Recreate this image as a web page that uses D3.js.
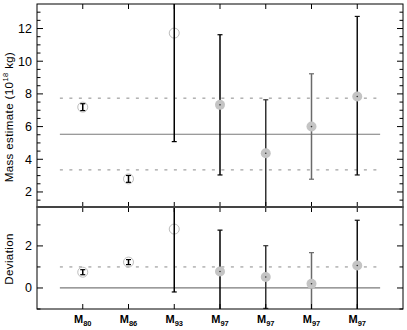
<!DOCTYPE html>
<html lang="en">
<head>
<meta charset="UTF-8">
<title>Mass estimates</title>
<script src="https://cdnjs.cloudflare.com/ajax/libs/d3/7.8.5/d3.min.js"></script>
<style>
    * { margin: 0; padding: 0; }
    body { background: #fff; width: 407px; height: 330px; overflow: hidden; }
    text { font-family: "Liberation Sans", Arial, sans-serif; fill: #000; }
</style>
</head>
<body>
<svg id="chart" width="407" height="330"></svg>
<script>
    // category subscripts (M_xx)
    const cats = ['80', '86', '93', '97', '97', '97', '97'];
    const openMarker = [true, true, true, false, false, false, false];
    const barColor = ['#000', '#000', '#000', '#000', '#333', '#6a6a6a', '#111'];

    // top panel: mass estimate (10^18 kg)
    const massVal = [7.19, 2.80, 11.72, 7.33, 4.37, 6.00, 7.84];
    const massLo  = [6.98, 2.59, 5.08, 3.04, 1.10, 2.78, 3.04];
    const massHi  = [7.40, 3.01, 14.5, 11.62, 7.64, 9.23, 12.74];
    const massMean = 5.53;
    const massBand = [3.35, 7.74];
    const massTicks = [2, 4, 6, 8, 10, 12];

    // bottom panel: deviation
    const devVal = [0.75, 1.23, 2.80, 0.78, 0.52, 0.20, 1.07];
    const devLo  = [0.63, 1.11, -0.19, -1.5, -0.97, -1.5, -1.5];
    const devHi  = [0.87, 1.35, 4.5, 2.75, 2.01, 1.68, 3.22];
    const devRef = 0;
    const devDash = 1;
    const devTicks = [0, 2];

    const svg = d3.select('#chart');
    const left = 37, right = 403;

    const x = d3.scaleLinear().domain([0, 8]).range([left, right]);

    const panels = [
        { top: 4, bottom: 207, domain: [1.08, 13.5], val: massVal, lo: massLo, hi: massHi,
          solid: [massMean], dashed: massBand, ticks: massTicks, minorStep: 0.5,
          label: 'mass', labelY: 117 },
        { top: 207, bottom: 309, domain: [-1, 3.85], val: devVal, lo: devLo, hi: devHi,
          solid: [devRef], dashed: [devDash], ticks: devTicks, minorStep: 1,
          label: 'Deviation', labelY: 259 }
    ];

    panels.forEach((p, pi) => {
        const y = d3.scaleLinear().domain(p.domain).range([p.bottom, p.top]);
        const g = svg.append('g');

        const clipId = 'clip' + pi;
        svg.append('clipPath').attr('id', clipId)
            .append('rect')
            .attr('x', left).attr('y', p.top)
            .attr('width', right - left).attr('height', p.bottom - p.top);

        // reference lines
        const xs = [x(0.5), x(7.5)];
        p.dashed.forEach(v => {
            g.append('line')
                .attr('x1', xs[0]).attr('x2', xs[1])
                .attr('y1', y(v)).attr('y2', y(v))
                .attr('stroke', '#8a8a8a').attr('stroke-width', 1)
                .attr('stroke-dasharray', '3,6.5');
        });
        p.solid.forEach(v => {
            g.append('line')
                .attr('x1', xs[0]).attr('x2', xs[1])
                .attr('y1', y(v)).attr('y2', y(v))
                .attr('stroke', '#7a7a7a').attr('stroke-width', 1.2);
        });

        // error bars + markers
        const pts = g.append('g').attr('clip-path', `url(#${clipId})`);
        p.val.forEach((v, i) => {
            const cx = x(i + 1);
            const col = barColor[i];
            if (!openMarker[i]) {
                pts.append('line')
                    .attr('x1', cx).attr('x2', cx)
                    .attr('y1', y(p.lo[i])).attr('y2', y(p.hi[i]))
                    .attr('stroke', col).attr('stroke-width', 1.5);
                pts.append('circle')
                    .attr('cx', cx).attr('cy', y(v)).attr('r', 5)
                    .attr('fill', '#c4c4c4');
                pts.append('circle')
                    .attr('cx', cx).attr('cy', y(v)).attr('r', 0.8)
                    .attr('fill', '#333');
            } else {
                pts.append('circle')
                    .attr('cx', cx).attr('cy', y(v)).attr('r', 5)
                    .attr('fill', 'none').attr('stroke', '#bdbdbd').attr('stroke-width', 1);
                pts.append('line')
                    .attr('x1', cx).attr('x2', cx)
                    .attr('y1', y(p.lo[i])).attr('y2', y(p.hi[i]))
                    .attr('stroke', col).attr('stroke-width', 1.5);
            }
            [p.lo[i], p.hi[i]].forEach(e => {
                if (e >= p.domain[0] - 0.05 && e <= p.domain[1]) {
                    pts.append('line')
                        .attr('x1', cx - 2.5).attr('x2', cx + 2.5)
                        .attr('y1', y(e)).attr('y2', y(e))
                        .attr('stroke', col).attr('stroke-width', 1.2);
                }
            });
        });

        // y ticks, left and right
        const minor = d3.range(Math.ceil(p.domain[0] / p.minorStep) * p.minorStep, p.domain[1], p.minorStep);
        minor.forEach(v => {
            const isMajor = p.ticks.includes(v) || Math.abs(v % 2) < 1e-9;
            const len = isMajor ? 6 : 3.5;
            g.append('line').attr('x1', left).attr('x2', left + len)
                .attr('y1', y(v)).attr('y2', y(v)).attr('stroke', '#000').attr('stroke-width', 1);
            g.append('line').attr('x1', right).attr('x2', right - len)
                .attr('y1', y(v)).attr('y2', y(v)).attr('stroke', '#000').attr('stroke-width', 1);
        });
        p.ticks.forEach(v => {
            g.append('text')
                .attr('x', left - 5).attr('y', y(v) + 4.5)
                .attr('text-anchor', 'end').attr('font-size', 12.5)
                .text(v);
        });

        // x ticks at top and bottom of each panel
        d3.range(1, 8).forEach(i => {
            g.append('line').attr('x1', x(i)).attr('x2', x(i))
                .attr('y1', p.top).attr('y2', p.top + 5).attr('stroke', '#000');
            g.append('line').attr('x1', x(i)).attr('x2', x(i))
                .attr('y1', p.bottom).attr('y2', p.bottom - 5).attr('stroke', '#000');
        });

        // frame
        g.append('rect')
            .attr('x', left).attr('y', p.top)
            .attr('width', right - left).attr('height', p.bottom - p.top)
            .attr('fill', 'none').attr('stroke', '#000').attr('stroke-width', 1);

        // y label
        const t = g.append('text')
            .attr('transform', `translate(13,${p.labelY}) rotate(-90)`)
            .attr('text-anchor', 'middle').attr('font-size', 11.5)
            .attr('letter-spacing', 0.4);
        if (p.label === 'mass') {
            t.append('tspan').text('Mass estimate (10');
            t.append('tspan').attr('font-size', 7.5).attr('dy', -5).text('18');
            t.append('tspan').attr('dy', 5).text(' kg)');
        } else {
            t.text(p.label);
        }
    });

    // thicker separator between panels
    svg.append('line')
        .attr('x1', left).attr('x2', right).attr('y1', 207).attr('y2', 207)
        .attr('stroke', '#444').attr('stroke-width', 2);

    // category labels
    cats.forEach((c, i) => {
        const t = svg.append('text')
            .attr('x', x(i + 1)).attr('y', 323)
            .attr('text-anchor', 'middle')
            .attr('font-size', 11).attr('font-weight', 'bold');
        t.append('tspan').text('M');
        t.append('tspan').attr('font-size', 7.5).attr('dy', 3).text(c);
    });
</script>
</body>
</html>
